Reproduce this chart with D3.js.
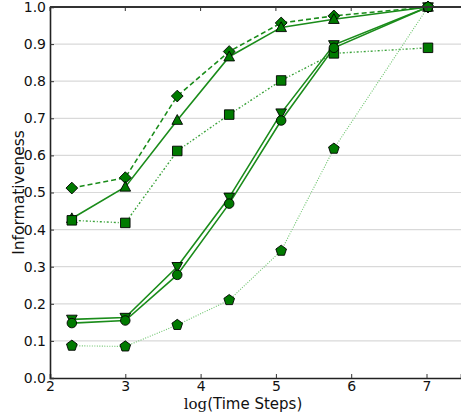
<!DOCTYPE html>
<html>
<head>
<meta charset="utf-8">
<title>Informativeness vs log(Time Steps)</title>
<script src="https://cdn.jsdelivr.net/npm/d3@7"></script>
<style>
  body { margin: 0; background: #fff; }
  svg { display: block; font-family: "DejaVu Sans", sans-serif; }
</style>
</head>
<body>
<svg id="chart" width="461" height="415"></svg>
<script>
// x positions (log of time steps)
var logSteps = [2.29, 3.0, 3.69, 4.38, 5.07, 5.77, 7.02];

// one array per curve
var diamondVals  = [0.512, 0.540, 0.760, 0.880, 0.957, 0.976, 1.0];
var triUpVals    = [0.430, 0.515, 0.695, 0.866, 0.945, 0.967, 1.0];
var squareVals   = [0.425, 0.418, 0.612, 0.710, 0.802, 0.875, 0.890];
var triDownVals  = [0.158, 0.163, 0.300, 0.487, 0.714, 0.898, 1.0];
var circleVals   = [0.148, 0.155, 0.278, 0.470, 0.694, 0.890, 1.0];
var pentagonVals = [0.087, 0.085, 0.143, 0.210, 0.343, 0.618, 1.0];

var xTicks = [2, 3, 4, 5, 6, 7];
var yTicks = [0, 0.1, 0.2, 0.3, 0.4, 0.5, 0.6, 0.7, 0.8, 0.9, 1.0];

var series = [
  { vals: diamondVals,  marker: "diamond",  dash: "5,3",       color: "#1a8c1a", width: 1.6 },
  { vals: triUpVals,    marker: "triUp",    dash: null,        color: "#1a8c1a", width: 1.6 },
  { vals: squareVals,   marker: "square",   dash: "2,2,1,2",   color: "#3aa23a", width: 1.4 },
  { vals: triDownVals,  marker: "triDown",  dash: null,        color: "#1a8c1a", width: 1.6 },
  { vals: circleVals,   marker: "circle",   dash: null,        color: "#1a8c1a", width: 1.6 },
  { vals: pentagonVals, marker: "pentagon", dash: "1,1.5",     color: "#6cc46c", width: 1.1 }
];

var W = 461, H = 415;
var m = { left: 50, top: 7, right: 0, bottom: 37 };

var svg = d3.select("#chart");

var x = d3.scaleLinear().domain([2, 2 + (W - m.left) / 75.3]).range([m.left, W]);
var y = d3.scaleLinear().domain([0, 1]).range([H - m.bottom, m.top]);

// grid
svg.append("g").selectAll("line").data(yTicks.slice(1, -1)).join("line")
  .attr("x1", m.left).attr("x2", W)
  .attr("y1", function(d) { return y(d); }).attr("y2", function(d) { return y(d); })
  .attr("stroke", "#d9d9d9").attr("stroke-width", 1.2);

var clip = svg.append("clipPath").attr("id", "plotclip").append("rect")
  .attr("x", m.left).attr("y", m.top - 6).attr("width", W - m.left).attr("height", H - m.bottom - m.top + 12);

// marker shapes
function markerPath(type, r) {
  var p = d3.path();
  if (type == "circle") {
    p.arc(0, 0, r * 0.85, 0, 2 * Math.PI);
  } else if (type == "square") {
    var s = r * 0.85;
    p.rect(-s, -s, 2 * s, 2 * s);
  } else if (type == "diamond") {
    var d = r * 1.05;
    p.moveTo(0, -d); p.lineTo(d, 0); p.lineTo(0, d); p.lineTo(-d, 0); p.closePath();
  } else if (type == "triUp" || type == "triDown") {
    var k = type == "triUp" ? 1 : -1;
    p.moveTo(0, -r * k); p.lineTo(r * 0.95, r * 0.75 * k); p.lineTo(-r * 0.95, r * 0.75 * k); p.closePath();
  } else if (type == "pentagon") {
    for (var i = 0; i < 5; i++) {
      var a = -Math.PI / 2 + i * 2 * Math.PI / 5;
      var px = r * Math.cos(a), py = r * Math.sin(a);
      if (i == 0) p.moveTo(px, py); else p.lineTo(px, py);
    }
    p.closePath();
  }
  return p.toString();
}

var line = d3.line()
  .x(function(d, i) { return x(logSteps[i]); })
  .y(function(d) { return y(d); });

var plot = svg.append("g").attr("clip-path", "url(#plotclip)");

series.forEach(function(s) {
  plot.append("path")
    .datum(s.vals)
    .attr("d", line)
    .attr("fill", "none")
    .attr("stroke", s.color)
    .attr("stroke-width", s.width)
    .attr("stroke-dasharray", s.dash);
});

series.forEach(function(s) {
  plot.append("g").selectAll("path").data(s.vals).join("path")
    .attr("transform", function(d, i) { return "translate(" + x(logSteps[i]) + "," + y(d) + ")"; })
    .attr("d", markerPath(s.marker, 5.6))
    .attr("fill", "#007a00")
    .attr("stroke", "#000")
    .attr("stroke-width", 0.9);
});

// axes
var xAxis = d3.axisBottom(x).tickValues(xTicks).tickSize(-4).tickPadding(3).tickFormat(d3.format("d"));
var gx = svg.append("g").attr("transform", "translate(0," + y(0) + ")").call(xAxis);
gx.select(".domain").attr("stroke", "#222").attr("stroke-width", 1.6);

var yAxis = d3.axisLeft(y).tickValues(yTicks).tickSize(-4).tickPadding(4).tickFormat(d3.format(".1f"));
var gy = svg.append("g").attr("transform", "translate(" + m.left + ",0)").call(yAxis);
gy.select(".domain").attr("stroke", "#222").attr("stroke-width", 1.6);

// top spine with inward ticks
svg.append("line").attr("x1", m.left).attr("x2", W).attr("y1", y(1)).attr("y2", y(1))
  .attr("stroke", "#333").attr("stroke-width", 2);
svg.append("g").selectAll("line").data(xTicks).join("line")
  .attr("x1", function(d) { return x(d); }).attr("x2", function(d) { return x(d); })
  .attr("y1", y(1)).attr("y2", y(1) + 4).attr("stroke", "#333");

svg.selectAll(".tick text").attr("font-size", 14).attr("fill", "#111")
  .attr("font-family", "DejaVu Sans, sans-serif");
svg.selectAll(".tick line").attr("stroke", "#333");

// labels
svg.append("text")
  .attr("transform", "translate(24," + ((y(0) + y(1)) / 2) + ") rotate(-90)")
  .attr("text-anchor", "middle")
  .attr("font-size", 15.5)
  .attr("fill", "#111")
  .text("Informativeness");

var xl = svg.append("text")
  .attr("x", 243).attr("y", 409)
  .attr("text-anchor", "middle")
  .attr("font-size", 15)
  .attr("fill", "#111");
xl.append("tspan").attr("font-family", "DejaVu Serif, serif").text("log");
xl.append("tspan").text("(Time Steps)");
</script>
</body>
</html>
